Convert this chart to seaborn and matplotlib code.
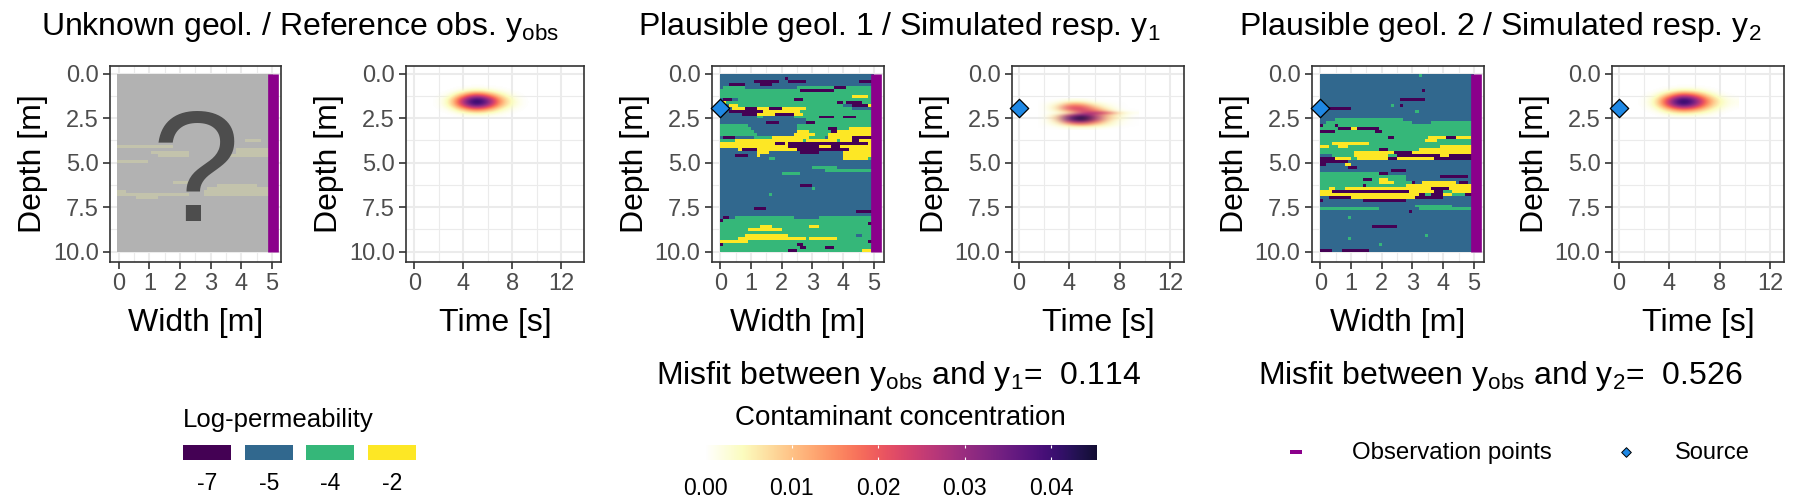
import re

import matplotlib.pyplot as plt
import numpy as np
import seaborn as sns
from matplotlib.colors import BoundaryNorm, ListedColormap
from matplotlib.patches import Rectangle

FIG_W, FIG_H = 1800, 500

# facies rows, run-length coded: p=-7, b=-5, g=-4, y=-2
GEOL_1 = [
    "b50", "b21 p1 b28", "b11 p8 b3 p6 b17 p5", "b3 p5 b5 p4 b33", "b1 g7 b17 g12 p4 g9",
    "g26 p11 g13", "g50", "g43 y5 g2", "b1 p3 b2 g18 p3 g23", "b1 y1 g36 p2 g1 p5 g4",
    "b3 y3 g34 b3 p5 y2", "b4 y4 p4 y4 p4 y8 g15 b7", "b3 p11 y12 g24", "b7 p5 y6 p6 y3 g23",
    "b12 g2 b10 g8 p5 g3 p4 g6", "b28 g22", "b15 p4 b9 p3 g19", "g9 b16 g25",
    "g10 b15 g10 p3 g4 y8", "g11 b14 y4 g7 p2 y12", "g12 b12 y7 g4 y15",
    "b1 p4 b6 g6 y12 g5 b1 y8 p7", "g5 y22 g1 y10 g1 y4 p2 y5", "y18 p3 y1 p26 y2",
    "y22 p10 y4 p3 y11", "b6 y1 p5 y13 p17 y8", "b12 y4 b10 p6 b8 y10",
    "b5 p4 b3 y1 b27 y10", "b16 g2 b22 y8 g2", "b50",
    "b50", "b30 g8 b12", "b34 g16", "b20 g6 b24", "b50", "b50", "b50", "b26 p4 b20",
    "b30 g1 b19", "b50", "b16 g1 b33", "b50", "b50", "b50", "b50", "b11 p4 b35", "b44 p6",
    "b50", "b1 p2 b2 g14 g5 b8 g18", "p1 g49", "g48 p2", "g13 y4 g12 y3 g18", "g9 y11 g30",
    "g50", "g8 y14 g22 b2 g4", "g6 y22 g1 y9 g12", "y9 g39 p2", "p1 g24 p2 g23",
    "g26 p2 g6 p3 g13", "g22 p3 g21 y3 g1",
]
GEOL_2 = [
    "b32 g1 b17", "b50", "b50", "b50", "b50", "b33 p1 b16", "b50", "b50", "b26 p8 b16", "b50",
    "b23 g1 b2 p1 b23", "b3 p7 b40", "b31 g1 b18", "b50", "b50", "b5 g22 b23",
    "b2 g28 b6 g14", "p1 g4 p1 g44", "g6 p4 y2 p7 g31", "p5 g13 p2 g30", "g50",
    "g22 p2 g11 y6 p3 y5 g1", "g34 y4 g12", "g4 y12 g34", "y3 g3 y3 g30 y11",
    "g19 p3 g10 y18", "g11 y13 p6 y20", "b4 g7 y11 g3 p14 y3 p8",
    "p5 y5 g2 y10 p3 y12 p13", "p9 b41", "p2 b6 y2 b40",
    "b9 p3 b38", "b23 p5 b22", "g19 p3 b28", "g28 b11 p9 b2", "g14 p3 g2 y3 g6 b22",
    "g19 y5 g6 p1 b2 y11 b1 p3 b2", "g14 p1 g13 y22", "g3 y2 g3 y20 y8 p6 y8",
    "y4 p25 y8 p3 g3 y7", "y32 p2 g2 p4 y3 g4 p3", "b3 p7 y21 p9 b10", "p1 b13 p14 b22",
    "b50", "b31 g12 b7", "g19 b13 g18", "b29 p1 b20", "b50", "b9 g1 b40", "b50", "b50",
    "b17 p8 b25", "b50", "b50", "b34 g1 b15", "b9 g1 b40", "b50", "b19 g1 b30", "b50",
    "p4 b3 p9 b34",
]
# faint bands that show through the grey cover: b = cover, y = band
GEOL_HIDDEN = {
    22: "b41 y5 b4", 23: "b50", 24: "y18 b32", 25: "b38 y12", 26: "b11 y12 b15 y12",
    27: "b13 y10 b11 y16", 29: "y10 b40", 36: "b18 y5 b27", 37: "b32 y13 b5",
    38: "b29 y21", 39: "y3 b25 y22", 40: "y23 b5 y22", 41: "b6 y7 b37",
}
FACIES_CODES = "pbgy"
FACIES_VALUES = [-7, -5, -4, -2]
FACIES_COLORS = ["#440154", "#31688E", "#35B779", "#FDE725"]

# contaminant concentration, in 1e-3 units
TIME_GRID = [2, 3, 4, 5, 6, 7, 8, 9]
DEPTH_OBS = [0.75, 1.0, 1.25, 1.5, 1.75, 2.0, 2.25, 2.5]
CONC_OBS = [
    [0, 0, 0, 0, 0, 0, 0, 0],
    [0, 0, 2, 5, 3, 1, 0, 0],
    [0, 2, 13, 26, 17, 6, 1, 0],
    [0, 6, 29, 46, 35, 13, 3, 0],
    [0, 6, 28, 45, 33, 12, 3, 0],
    [0, 2, 12, 22, 15, 5, 1, 0],
    [0, 0, 2, 4, 3, 1, 0, 0],
    [0, 0, 0, 0, 0, 0, 0, 0],
]
CONC_2 = [
    [0, 0, 0, 0, 0, 0, 0, 0],
    [0, 0, 2, 5, 4, 1, 0, 0],
    [0, 2, 12, 26, 19, 7, 1, 0],
    [0, 5, 27, 46, 36, 15, 4, 1],
    [0, 5, 27, 45, 34, 14, 4, 1],
    [0, 2, 12, 22, 17, 7, 2, 0],
    [0, 0, 3, 5, 4, 2, 0, 0],
    [0, 0, 0, 0, 0, 0, 0, 0],
]
DEPTH_1 = [1.5, 1.625, 1.75, 1.875, 2.0, 2.125, 2.25, 2.375, 2.5, 2.625, 2.75, 2.875, 3.0, 3.125]
CONC_1 = [
    [0, 0, 1, 1, 0, 0, 0, 0],
    [0, 1, 5, 5, 1, 0, 0, 0],
    [0, 3, 12, 11, 4, 1, 0, 0],
    [0, 5, 19, 18, 8, 2, 0, 0],
    [0, 6, 22, 23, 13, 4, 0, 0],
    [0, 4, 15, 24, 18, 8, 1, 0],
    [0, 2, 8, 25, 28, 21, 6, 1],
    [0, 6, 25, 37, 25, 10, 3, 0],
    [0, 10, 35, 46, 29, 10, 3, 0],
    [0, 9, 33, 44, 26, 9, 2, 0],
    [0, 5, 23, 31, 18, 6, 1, 0],
    [0, 3, 12, 17, 10, 4, 1, 0],
    [0, 1, 4, 6, 4, 2, 0, 0],
    [0, 0, 1, 1, 1, 0, 0, 0],
]
CONC_MAX = 0.0453
CONC_TICKS = [0.00, 0.01, 0.02, 0.03, 0.04]

SOURCE_X = [0.0]
SOURCE_DEPTH = [1.9]
OBS_DEPTHS = [0.0, 10.0]
WIDTH_TICKS = [0, 1, 2, 3, 4, 5]
TIME_TICKS = [0, 4, 8, 12]
DEPTH_TICKS = [0.0, 2.5, 5.0, 7.5, 10.0]

TITLES = [
    r"Unknown geol. / Reference obs. $\mathregular{y_{obs}}$",
    r"Plausible geol. 1 / Simulated resp. $\mathregular{y_{1}}$",
    r"Plausible geol. 2 / Simulated resp. $\mathregular{y_{2}}$",
]
MISFITS = [
    r"Misfit between $\mathregular{y_{obs}}$ and $\mathregular{y_{1}}$=  0.114",
    r"Misfit between $\mathregular{y_{obs}}$ and $\mathregular{y_{2}}$=  0.526",
]

OBS_COLOR = "#8B008B"
SOURCE_COLOR = "#1E88E5"
TOP, BOTTOM = 65.7, 262.0


def decode(rows):
    out = []
    for row in rows:
        cells = []
        for code, count in re.findall(r"([pbgy])(\d+)", row):
            cells += [FACIES_CODES.index(code)] * int(count)
        out.append((cells + cells[-1:] * 50)[:50])
    return np.array(out)


def px_axes(fig, left, right, top, bottom):
    return fig.add_axes([left / FIG_W, 1 - bottom / FIG_H,
                         (right - left) / FIG_W, (bottom - top) / FIG_H])


def fig_text(fig, x, y, text, **kw):
    kw.setdefault("ha", "center")
    kw.setdefault("va", "center")
    return fig.text(x / FIG_W, 1 - y / FIG_H, text, **kw)


def style_panel(ax, xticks, xminor, xlim, xlabel):
    ax.set_xlim(*xlim)
    ax.set_ylim(10.58, -0.45)
    ax.set_xticks(xticks)
    ax.set_xticks(xminor, minor=True)
    ax.set_yticks(DEPTH_TICKS)
    ax.set_yticks([1.25, 3.75, 6.25, 8.75], minor=True)
    ax.set_yticklabels([f"{v:.1f}" for v in DEPTH_TICKS])
    ax.set_axisbelow(True)
    ax.grid(True, which="major", color="#EBEBEB", lw=1.5)
    ax.grid(True, which="minor", color="#EBEBEB", lw=0.8)
    ax.tick_params(which="major", length=5, width=1.2, color="#333333",
                   labelcolor="#4D4D4D", labelsize=17, pad=3,
                   left=True, bottom=True)
    ax.tick_params(which="minor", length=0)
    for spine in ax.spines.values():
        spine.set_color("#333333")
        spine.set_linewidth(1.2)
    ax.set_xlabel(xlabel, fontsize=23, color="black")
    ax.set_ylabel("Depth [m]", fontsize=23, color="black")
    ax.xaxis.set_label_coords(0.5, -(323 - BOTTOM) / (BOTTOM - TOP))
    width_px = ax.get_position().width * FIG_W
    ax.yaxis.set_label_coords(-77 / width_px, 0.5)
    ax.xaxis.label.set_va("center")
    ax.yaxis.label.set_va("center")


def draw_source(ax):
    sns.scatterplot(x=SOURCE_X, y=SOURCE_DEPTH, ax=ax, marker="D", s=88, color=SOURCE_COLOR,
                    edgecolor="black", linewidth=0.9, zorder=6, clip_on=False, legend=False)


def draw_obs(ax, x):
    sns.lineplot(x=[x] * len(OBS_DEPTHS), y=OBS_DEPTHS, ax=ax, color=OBS_COLOR, lw=7.7,
                 estimator=None, sort=False, solid_capstyle="butt", zorder=4, legend=False)


def geology_panel(fig, left, right, rows, x_lim):
    ax = px_axes(fig, left, right, TOP, BOTTOM)
    ax.imshow(decode(rows), extent=[0, 5, 10, 0], aspect="auto", interpolation="nearest",
              cmap=ListedColormap(FACIES_COLORS), norm=BoundaryNorm(np.arange(-0.5, 4.5), 4), zorder=2)
    draw_obs(ax, 5.08)
    draw_source(ax)
    style_panel(ax, WIDTH_TICKS, np.arange(0.5, 5, 1), x_lim, "Width [m]")
    return ax


def conc_panel(fig, left, right, conc, depths, x_lim, cmap, source=True):
    ax = px_axes(fig, left, right, TOP, BOTTOM)
    dt = TIME_GRID[1] - TIME_GRID[0]
    dd = depths[1] - depths[0]
    ax.imshow(np.array(conc) * 1e-3, cmap=cmap, vmin=0, vmax=CONC_MAX, aspect="auto",
              interpolation="bicubic", zorder=2,
              extent=[TIME_GRID[0] - dt / 2, TIME_GRID[-1] + dt / 2,
                      depths[-1] + dd / 2, depths[0] - dd / 2])
    if source:
        draw_source(ax)
    style_panel(ax, TIME_TICKS, [2, 6, 10], x_lim, "Time [s]")
    return ax


def main():
    sns.set_theme(style="whitegrid")
    plt.rcParams["font.family"] = ["Liberation Sans", "DejaVu Sans"]
    plt.rcParams["mathtext.fontset"] = "custom"
    plt.rcParams["mathtext.rm"] = "Liberation Sans"
    plt.rcParams["mathtext.default"] = "regular"

    fig = plt.figure(figsize=(FIG_W / 100, FIG_H / 100), dpi=100, facecolor="white")

    # magma reversed, stopped short of black, fading out to nothing at zero
    magma = sns.color_palette("magma_r", 256)[:232]
    fade = [(*magma[0], i / 24) for i in range(24)]
    conc_cmap = ListedColormap(fade + [(*c, 1.0) for c in magma])

    # hidden geology panel
    ax = px_axes(fig, 110, 280.5, TOP, BOTTOM)
    hidden = decode([GEOL_HIDDEN.get(r, "b50") for r in range(60)])
    ax.imshow(hidden, extent=[-0.05, 5.03, 10.03, 0.07], aspect="auto", interpolation="nearest",
              cmap=ListedColormap(["#B2B2B2", "#C3C3AC"]), vmin=1, vmax=3, zorder=2)
    draw_obs(ax, 5.02)
    style_panel(ax, WIDTH_TICKS, np.arange(0.5, 5, 1), (-0.29, 5.28), "Width [m]")
    ax.text(2.5, 8.27, "?", fontsize=114, color="#4D4D4D", ha="center", va="baseline", zorder=5)

    conc_panel(fig, 406, 584, CONC_OBS, DEPTH_OBS, (-0.68, 13.86), conc_cmap, source=False)
    geology_panel(fig, 711.7, 884, GEOL_1, (-0.28, 5.33))
    conc_panel(fig, 1011.7, 1184, CONC_1, DEPTH_1, (-0.58, 13.1), conc_cmap)
    geology_panel(fig, 1311.7, 1484, GEOL_2, (-0.28, 5.33))
    conc_panel(fig, 1611.7, 1784, CONC_2, DEPTH_OBS, (-0.58, 13.1), conc_cmap)

    for x, title in zip([300, 899, 1500], TITLES):
        fig_text(fig, x, 35, title, fontsize=23, color="black", va="baseline")
    for x, text in zip([899, 1500], MISFITS):
        fig_text(fig, x, 384, text, fontsize=23, color="black", va="baseline")

    # facies legend
    fig_text(fig, 183, 420, "Log-permeability", fontsize=18.5, ha="left", color="black")
    for i, (value, color) in enumerate(zip(FACIES_VALUES, FACIES_COLORS)):
        x0 = 183 + 61.7 * i
        fig.add_artist(Rectangle((x0 / FIG_W, 1 - 460 / FIG_H), 48 / FIG_W, 15 / FIG_H,
                                 transform=fig.transFigure, color=color, lw=0))
        fig_text(fig, x0 + 24, 484, str(value), fontsize=16.5, color="black")

    # concentration colour bar
    fig_text(fig, 900, 418, "Contaminant concentration", fontsize=20, color="black")
    cax = px_axes(fig, 705, 1097, 445, 460)
    cax.imshow(np.linspace(0, CONC_MAX, 256)[None, :], cmap=conc_cmap, vmin=0, vmax=CONC_MAX,
               aspect="auto", extent=[0, CONC_MAX, 0, 1])
    cax.grid(False)
    cax.set_yticks([])
    cax.set_xticks(CONC_TICKS)
    cax.set_xticklabels([f"{t:.2f}" for t in CONC_TICKS], fontsize=16.5)
    cax.tick_params(axis="x", length=0, pad=12, labelcolor="black")
    for spine in cax.spines.values():
        spine.set_visible(False)
    cax.vlines(CONC_TICKS[1:], 0, 0.2, color="white", lw=0.8)
    cax.vlines(CONC_TICKS[1:], 0.8, 1, color="white", lw=0.8)

    # marks legend
    fig.add_artist(Rectangle((1290 / FIG_W, 1 - 454 / FIG_H), 12 / FIG_W, 4 / FIG_H,
                             transform=fig.transFigure, color=OBS_COLOR, lw=0))
    fig_text(fig, 1352, 453, "Observation points", fontsize=17.3, ha="left", color="black")
    lax = px_axes(fig, 1616, 1636, 442, 462)
    lax.axis("off")
    lax.set_xlim(-1, 1)
    lax.set_ylim(-1, 1)
    sns.scatterplot(x=[0], y=[0], ax=lax, marker="D", s=24, color=SOURCE_COLOR,
                    edgecolor="black", linewidth=0.7, legend=False)
    lax.set_xlabel("")
    lax.set_ylabel("")
    fig_text(fig, 1675, 453, "Source", fontsize=17, ha="left", color="black")

    fig.savefig("out.png", dpi=100)


if __name__ == "__main__":
    main()
